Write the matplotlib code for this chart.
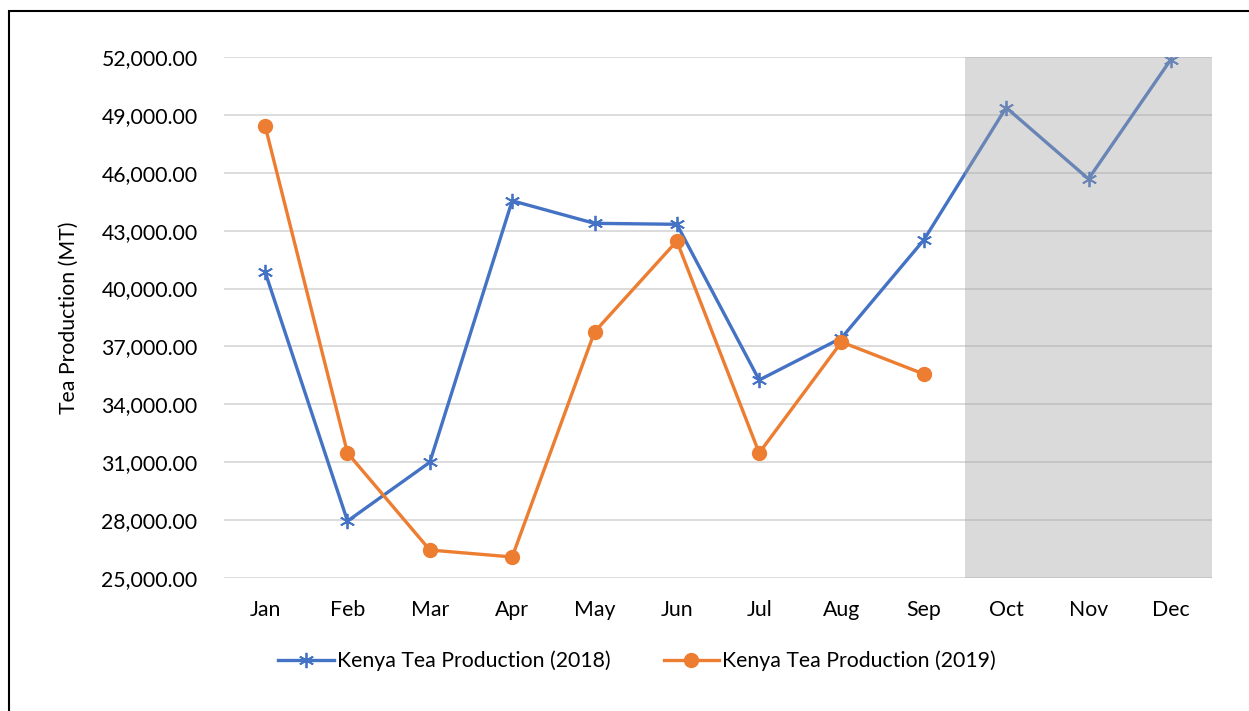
import matplotlib
matplotlib.use("Agg")
import matplotlib.pyplot as plt
from matplotlib.patches import Rectangle
from matplotlib.ticker import FuncFormatter

months = ["Jan", "Feb", "Mar", "Apr", "May", "Jun", "Jul", "Aug", "Sep", "Oct", "Nov", "Dec"]
prod_2018 = [40850, 27950, 31000, 44550, 43380, 43330, 35260, 37440, 42520, 49380, 45680, 51870]
prod_2019 = [48420, 31480, 26450, 26090, 37750, 42460, 31480, 37230, 35570]
yticks = list(range(25000, 52001, 3000))
forecast_start, forecast_end = 8.5, 11.5

plt.rcParams['font.family'] = ['Lato', 'DejaVu Sans']

fig = plt.figure(figsize=(12.49, 7.11), dpi=100)
W, H = 1249, 711
ax = fig.add_axes([224 / W, 1 - 578 / H, (1212 - 224) / W, (578 - 57) / H])

x = list(range(len(months)))
ax.plot(x, prod_2018, color='#4472c4', lw=2.4, marker=(6, 2, 0), markersize=11,
        markeredgewidth=1.3, label='Kenya Tea Production (2018)', zorder=2)
ax.plot(x[:len(prod_2019)], prod_2019, color='#ed7d31', lw=2.4, marker='o', markersize=10,
        label='Kenya Tea Production (2019)', zorder=2)

ax.axvspan(forecast_start, forecast_end, color='#a3a3a3', alpha=0.4, lw=0, zorder=3)

ax.set_xlim(-0.5, 11.5)
ax.set_ylim(25000, 52000)
ax.set_yticks(yticks)
ax.yaxis.set_major_formatter(FuncFormatter(lambda v, p: f"{v:,.2f}"))
ax.set_xticks(x)
ax.set_xticklabels(months)
ax.grid(axis='y', color='#d9d9d9', lw=1.3, zorder=0)
ax.set_axisbelow(True)
for s in ax.spines.values():
    s.set_visible(False)
ax.tick_params(axis='both', length=0, labelsize=15.3, colors='black')
ax.tick_params(axis='y', pad=19)
ax.tick_params(axis='x', pad=16)
ax.set_ylabel('Tea Production (MT)', fontsize=15.3, labelpad=16)

leg = fig.legend(loc='center', bbox_to_anchor=(637 / W, 1 - 661 / H), ncol=2, frameon=False,
                 fontsize=15.3, handlelength=2.6, handletextpad=0.15, columnspacing=2.5)

fig.patches.append(Rectangle((8.5 / W, -0.1), 1.2, 1 - 10.5 / H + 0.1, transform=fig.transFigure,
                             fill=False, edgecolor='black', lw=1.5))

fig.savefig('out.png', dpi=100)
